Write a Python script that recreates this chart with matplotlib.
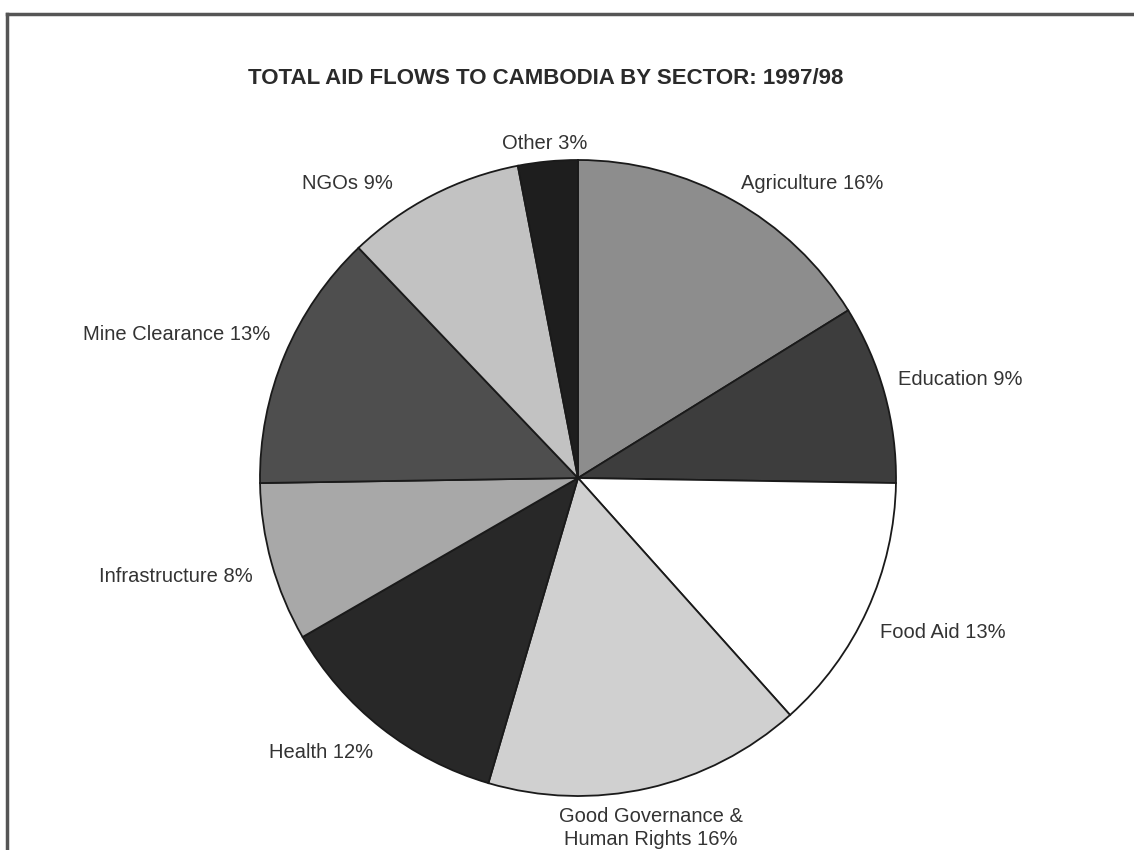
import matplotlib.pyplot as plt
from matplotlib import font_manager

# Dane: udział sektorów w pomocy (%)
sectors = ['Agriculture', 'Education', 'Food Aid', 'Good Governance &\nHuman Rights',
           'Health', 'Infrastructure', 'Mine Clearance', 'NGOs', 'Other']
shares = [16, 9, 13, 16, 12, 8, 13, 9, 3]
greys = ['#8d8d8d', '#3d3d3d', '#ffffff', '#d0d0d0', '#282828',
         '#a8a8a8', '#4e4e4e', '#c2c2c2', '#1e1e1e']

# pozycje etykiet (piksele) i wyrównanie
label_pos = [(741, 183, 'left'), (898, 379, 'left'), (880, 633, 'left'),
             (651, 828, 'center'), (269, 753, 'left'), (99, 577, 'left'),
             (83, 334, 'left'), (302, 183, 'left'), (502, 143, 'left')]

W, H = 1134, 850
names = {f.name for f in font_manager.fontManager.ttflist}
plt.rcParams['font.family'] = ['Liberation Sans', 'DejaVu Sans']

fig = plt.figure(figsize=(W / 100, H / 100), dpi=100)
ax = fig.add_axes([0, 0, 1, 1])

ax.pie(shares, colors=greys, startangle=90, counterclock=False,
       center=(578, H - 478), radius=318,
       wedgeprops=dict(edgecolor='#1a1a1a', linewidth=1.3))
ax.set_xlim(0, W)
ax.set_ylim(0, H)
ax.set_aspect('equal')
ax.axis('off')

for name, val, (x, y, ha) in zip(sectors, shares, label_pos):
    ax.text(x, H - y, f'{name} {val}%', ha=ha, va='center', fontsize=14.5,
            color='#333333', linespacing=1.3,
            multialignment='center')

title_font = 'Liberation Sans Narrow' if 'Liberation Sans Narrow' in names else 'Liberation Sans'
ax.text(546, H - 78, 'TOTAL AID FLOWS TO CAMBODIA BY SECTOR: 1997/98',
        ha='center', va='center', fontsize=16, fontweight='bold',
        color='#2a2a2a', family=[title_font, 'DejaVu Sans'])

# ramka ze skanu (lewa i górna krawędź)
ax.plot([7, 7], [0, H - 14], color='#555555', lw=2.5)
ax.plot([7, W], [H - 14, H - 14], color='#555555', lw=2.5)

fig.savefig('out.png', dpi=100)
